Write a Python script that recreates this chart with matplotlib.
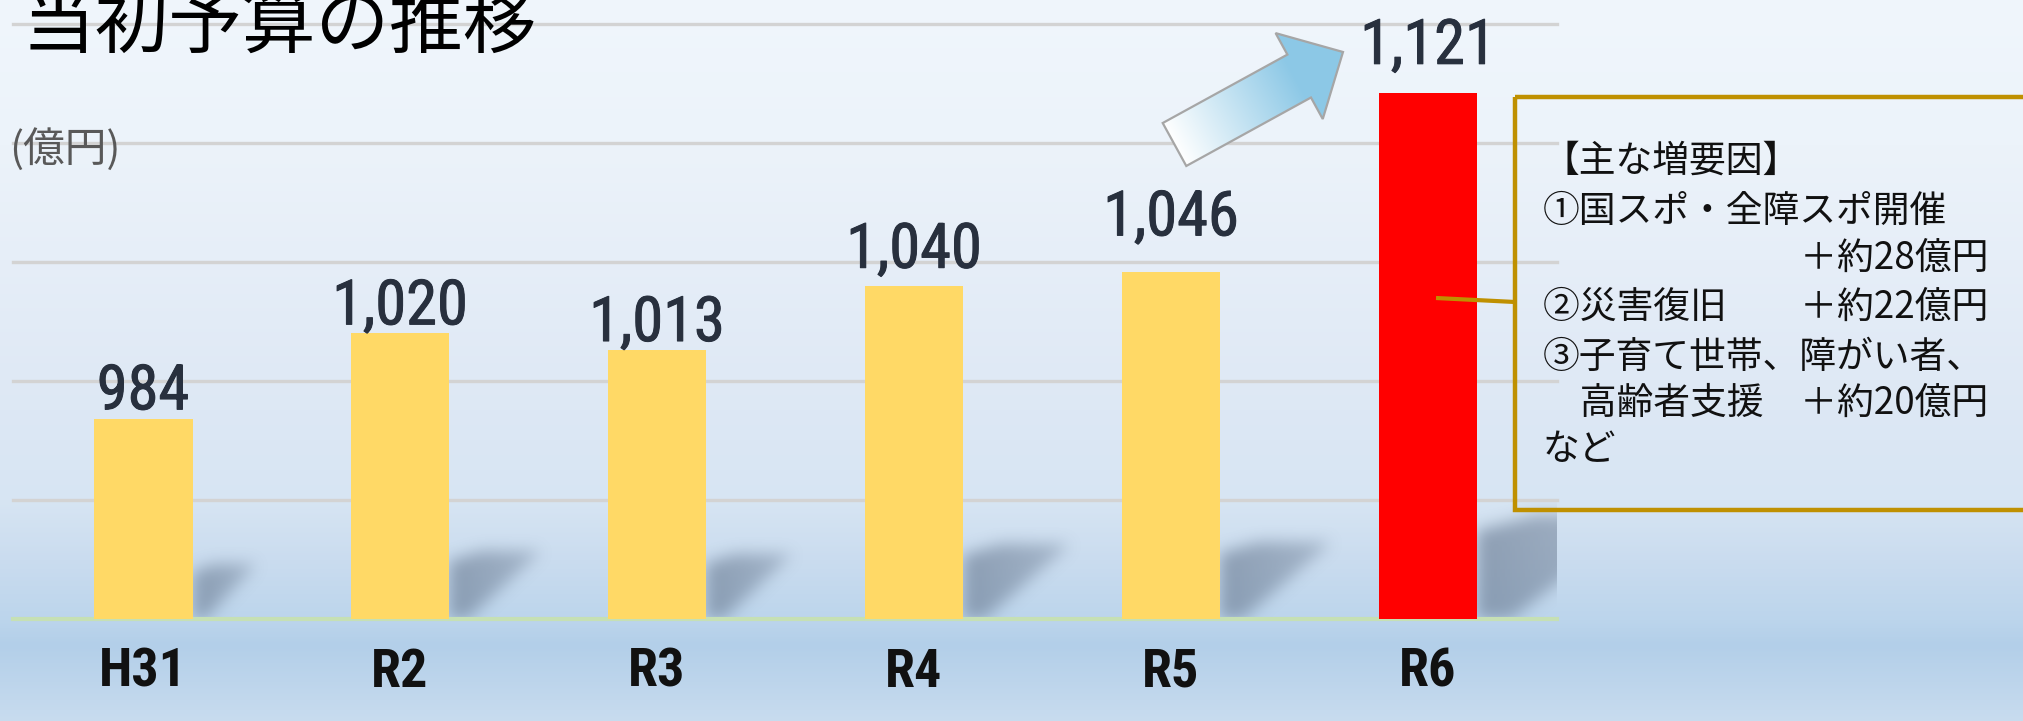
import numpy as np
import matplotlib
matplotlib.use("Agg")
import matplotlib.pyplot as plt
from matplotlib.path import Path
from matplotlib.patches import Polygon, Rectangle
from matplotlib import font_manager as fm
import matplotlib.colors as mcolors
import matplotlib.patheffects as pe

# ---------------- data ----------------
categories = ["H31", "R2", "R3", "R4", "R5", "R6"]
values = [984, 1020, 1013, 1040, 1046, 1121]
value_labels = ["984", "1,020", "1,013", "1,040", "1,046", "1,121"]
bar_colors = ["#FFD966", "#FFD966", "#FFD966", "#FFD966", "#FFD966", "#FF0000"]
grid_values = [950, 1000, 1050, 1100, 1150]
y_min, y_max = 900, 1150
title_text = "当初予算の推移"
unit_text = "(億円)"
note_lines = [
    "【主な増要因】",
    "①国スポ・全障スポ開催",
    "　　　　　　　＋約28億円",
    "②災害復旧　　＋約22億円",
    "③子育て世帯、障がい者、",
    "　高齢者支援　＋約20億円",
    "など",
]

# label gaps above bars (points) - style only
label_gap_pt = [7, 6.5, 6.5, 13, 26, 21]

# ---------------- fonts ----------------
names = {f.name for f in fm.fontManager.ttflist}
def pick(cands, default="DejaVu Sans"):
    for c in cands:
        if c in names:
            return c
    return default

narrow = pick(["Liberation Sans Narrow", "Roboto Condensed", "Open Sans Condensed", "DejaVu Sans"])
cjk = "Noto Sans CJK JP"
plt.rcParams["font.family"] = [cjk, "DejaVu Sans"]

W, H = 2024, 721
fig = plt.figure(figsize=(W / 100, H / 100), dpi=100)

# ---------------- background ----------------
bg = fig.add_axes([0, 0, 1, 1], zorder=0)
bg.set_xlim(0, W)
bg.set_ylim(H, 0)
bg.axis("off")
stops_y = [0, 145, 260, 380, 500, 560, 620, 645, 700, 721]
stops_c = ["#f0f6fc", "#ecf3fa", "#e6eef8", "#dfe9f5", "#d7e5f3", "#cadcef",
           "#bcd5ec", "#b3cfe9", "#c2d8ed", "#c8dcef"]
rgb = np.array([mcolors.to_rgb(c) for c in stops_c])
rows = np.arange(H) + 0.5
col = np.stack([np.interp(rows, stops_y, rgb[:, k]) for k in range(3)], axis=1)
grad = np.repeat(col[:, None, :], 8, axis=1)
bg.imshow(grad, extent=(0, W, H, 0), aspect="auto", interpolation="bilinear", zorder=0)

# ---------------- main axes ----------------
ax_left, ax_right, ax_top, ax_base = 13, 1557, 24, 619
ax = fig.add_axes([ax_left / W, (H - ax_base) / H, (ax_right - ax_left) / W, (ax_base - ax_top) / H],
                  zorder=1)
ax.set_facecolor("none")
ax.set_xlim(-0.506, 5.502)
ax.set_ylim(y_min, y_max)
for s in ax.spines.values():
    s.set_visible(False)
ax.set_yticks([])

for g in grid_values:
    ax.axhline(g, color="#d3d3d3", lw=2.4, zorder=1, clip_on=False)
ax.axhline(y_min, color="#c6e0b4", lw=3, zorder=1, clip_on=False)

x = np.arange(len(categories))
bw = 0.385
ax.bar(x, values, width=bw, color=bar_colors, zorder=3)

ax.set_xticks(x)
ax.set_xticklabels(categories, fontsize=39, fontweight="bold", color="#111111",
                   family=[narrow, "DejaVu Sans"])
ax.tick_params(axis="x", length=0, pad=20)

for i, (v, lab) in enumerate(zip(values, value_labels)):
    ax.annotate(lab, xy=(i, v), xytext=(0, label_gap_pt[i]), textcoords="offset points",
                ha="center", va="baseline", fontsize=45, color="#28303e",
                family=[narrow, "DejaVu Sans"], zorder=4,
                path_effects=[pe.withStroke(linewidth=0.7, foreground="#28303e")])

# ---------------- shadows (derived from bars) ----------------
def to_px(xd, yd):
    d = ax.transData.transform((xd, yd))
    return d[0], H - d[1]

mask = np.zeros((H, W))
for i, v in enumerate(values):
    xr, ytop = to_px(i + bw / 2, v)
    _, base = to_px(i, y_min)
    hb = base - ytop
    sh = 25 + 0.15 * hb
    L = 0.32 * hb
    poly = [(xr, base), (xr, base - sh * 0.85), (xr + 0.35 * L, base - sh),
            (xr + L, base - sh), (xr + 0.2 * L, base)]
    path = Path(poly)
    x0, x1 = int(xr) - 2, int(min(W, xr + L + 3))
    y0, y1 = int(base - sh) - 3, int(base) + 1
    yy, xx = np.mgrid[y0:y1, x0:x1]
    pts = np.column_stack([xx.ravel() + 0.5, yy.ravel() + 0.5])
    inside = path.contains_points(pts).reshape(yy.shape).astype(float)
    fade = np.clip(1 - 0.4 * (xx + 0.5 - xr) / L, 0.3, 1)
    mask[y0:y1, x0:x1] = np.maximum(mask[y0:y1, x0:x1], inside * fade)

def blur1d(a, r, axis):
    a = np.moveaxis(a, axis, 0)
    p = np.concatenate([np.repeat(a[:1], r + 1, 0), a, np.repeat(a[-1:], r, 0)], 0)
    c = np.cumsum(p, 0)
    out = (c[2 * r + 1:] - c[:-2 * r - 1]) / (2 * r + 1)
    return np.moveaxis(out, 0, axis)

for _ in range(3):
    mask = blur1d(mask, 7, 0)
    mask = blur1d(mask, 7, 1)
mask[:, ax_right:] = 0
mask[ax_base:, :] = 0
for i, v in enumerate(values):
    xl, yt = to_px(i - bw / 2, v)
    xr, _ = to_px(i + bw / 2, v)
    mask[int(yt):ax_base, int(round(xl)):int(round(xr))] = 0
sh_rgba = np.zeros((H, W, 4))
sh_rgba[..., 0] = 0.42
sh_rgba[..., 1] = 0.49
sh_rgba[..., 2] = 0.58
sh_rgba[..., 3] = np.clip(mask * 0.65, 0, 1)
bg.imshow(sh_rgba, extent=(0, W, H, 0), aspect="auto", interpolation="bilinear", zorder=1)

# ---------------- overlay (title, arrow, note box) ----------------
ov = fig.add_axes([0, 0, 1, 1], zorder=2)
ov.set_xlim(0, W)
ov.set_ylim(H, 0)
ov.axis("off")
ov.patch.set_visible(False)

ov.text(22, 47, title_text, fontsize=53, va="baseline", ha="left", color="#000000",
        family=[cjk, "DejaVu Sans"])
ov.text(9, 149, unit_text, fontsize=30, va="center", ha="left", color="#595959",
        family=[cjk, "DejaVu Sans"])

# block arrow with gradient
T = np.array([1174.5, 144.5])
P = np.array([1343.0, 52.0])
u = (P - T) / np.linalg.norm(P - T)
n = np.array([-u[1], u[0]])
if n[1] < 0:
    n = -n
sw, hw, hl = 24.5, 49.0, 50.0
B = P - u * hl
verts = [T - n * sw, B - n * sw, B - n * hw, P, B + n * hw, B + n * sw, T + n * sw]
arrow = Polygon(verts, closed=True, facecolor="none", edgecolor="#a6a6a6", lw=1.6, zorder=6)
ov.add_patch(arrow)
vx = np.array([p[0] for p in verts]); vy = np.array([p[1] for p in verts])
ax0, ax1, ay0, ay1 = int(vx.min()) - 2, int(vx.max()) + 2, int(vy.min()) - 2, int(vy.max()) + 2
gy, gx = np.mgrid[ay0:ay1, ax0:ax1] + 0.5
t = ((gx - T[0]) * u[0] + (gy - T[1]) * u[1]) / np.linalg.norm(P - T)
t = np.clip(t / 0.72, 0, 1)
c0 = np.array(mcolors.to_rgb("#ffffff")); c1 = np.array(mcolors.to_rgb("#8cc8e6"))
gimg = c0[None, None, :] * (1 - t[..., None]) + c1[None, None, :] * t[..., None]
im = ov.imshow(gimg, extent=(ax0, ax1, ay1, ay0), aspect="auto", interpolation="bilinear", zorder=5)
im.set_clip_path(Polygon(verts, closed=True, transform=ov.transData))

# note box and connector
gold = "#BF9000"
ov.add_patch(Rectangle((1515, 97), 620, 413, facecolor="none", edgecolor=gold, lw=3.2, zorder=6))
ov.plot([1436, 1515], [298, 302], color=gold, lw=3.0, zorder=6, solid_capstyle="butt")

line_y = [161, 211, 258, 307, 357, 403, 449]
for yv, txt in zip(line_y, note_lines):
    ov.text(1543, yv, txt, fontsize=26.5, va="center", ha="left", color="#111111",
            family=[cjk, "DejaVu Sans"], zorder=7)

fig.savefig("out.png", dpi=100)
